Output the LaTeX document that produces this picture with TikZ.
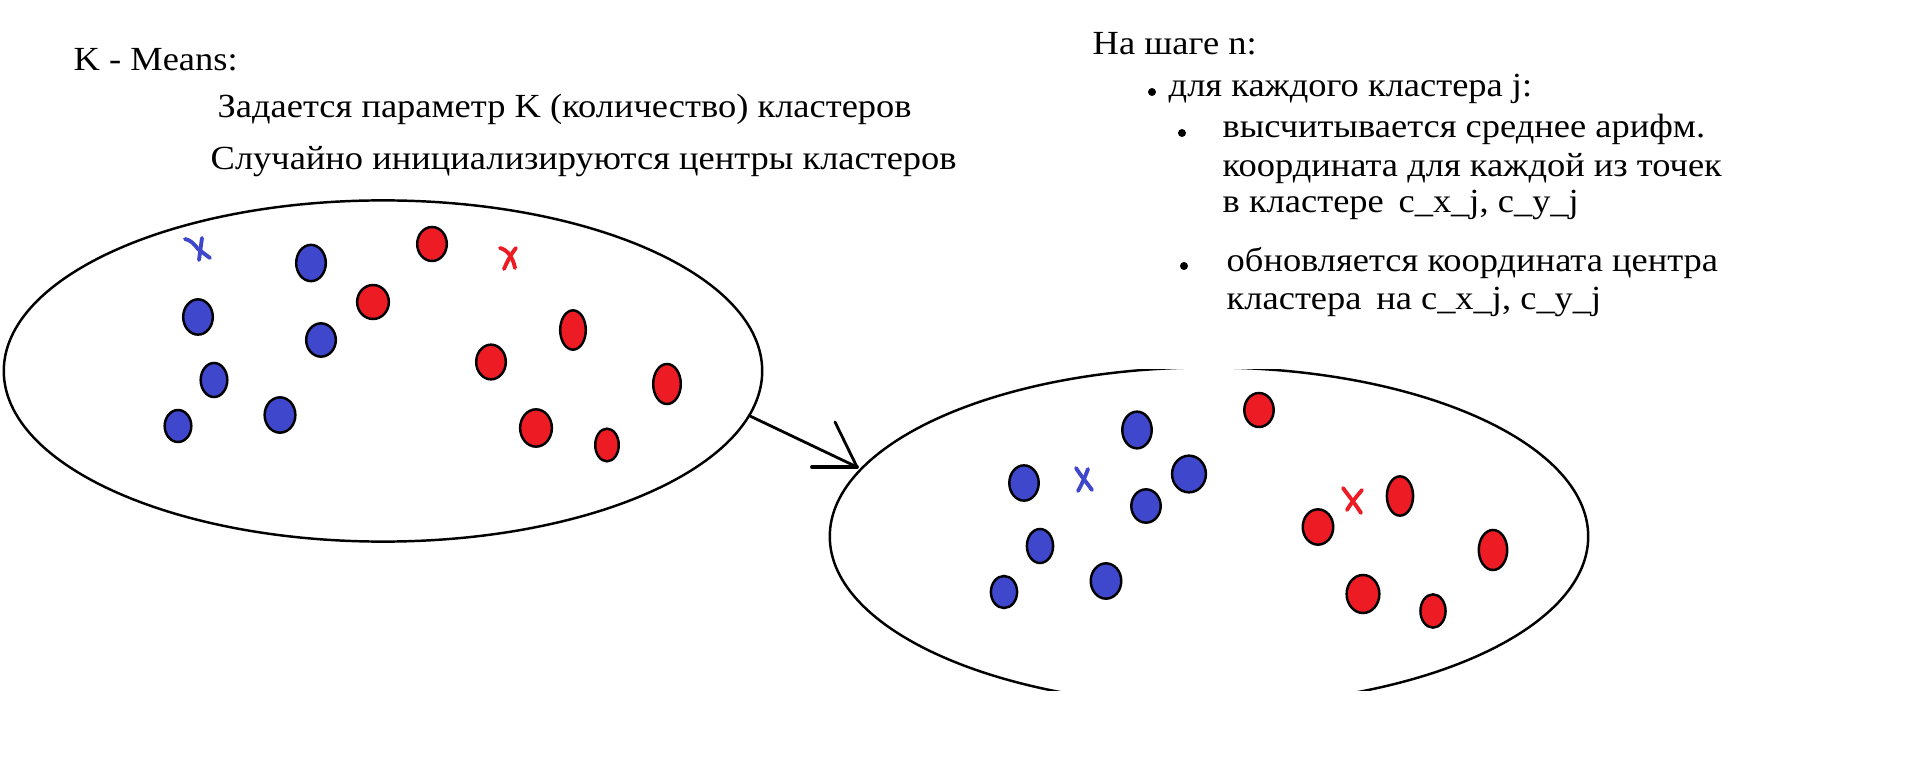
\documentclass[tikz,border=0pt]{standalone}
\usepackage{fontspec}
\setmainfont{Liberation Serif}[FakeStretch=1.08]
\usetikzlibrary{shapes.geometric}
\definecolor{pblue}{RGB}{63,72,204}
\definecolor{pred}{RGB}{237,28,36}
\tikzset{
  txt/.style={anchor=base west, inner sep=0pt, font=\fontsize{9.6pt}{11pt}\selectfont},
  blob/.style={ellipse, draw=black, line width=0.7pt, inner sep=0pt},
  bdot/.style 2 args={blob, fill=pblue, minimum width=#1cm, minimum height=#2cm},
  rdot/.style 2 args={blob, fill=pred, minimum width=#1cm, minimum height=#2cm},
  cluster/.style={ellipse, draw=black, line width=0.7pt, inner sep=0pt, minimum width=7.58cm, minimum height=3.41cm},
  bullet/.style={circle, fill=black, inner sep=0pt, minimum size=0.08cm},
  crossb/.style={pblue, line width=1.1pt, line cap=round, line join=round},
  crossr/.style={pred, line width=1.1pt, line cap=round, line join=round},
  arrowline/.style={line width=0.8pt, line cap=round}
}
\begin{document}
\begin{tikzpicture}[x=0.01cm, y=-0.01cm]
\useasboundingbox[fill=white] (0,0) rectangle (1914,779);

% texts
\node[txt] (t1) at (73,71) {K - Means:};
\node[txt] (t2) at (217,118) {Задается параметр K (количество) кластеров};
\node[txt] (t3) at (210,170) {Случайно инициализируются центры кластеров};
\node[txt] (t4) at (1092,55) {На шаге n:};
\node[bullet] (u1) at (1152,92) {};
\node[txt] (t5) at (1168,97) {для каждого кластера j:};
\node[bullet] (u2) at (1182,133) {};
\node[txt] (t6) at (1222,138) {высчитывается среднее арифм.};
\node[txt] (t7) at (1222,177) {координата для каждой из точек};
\node[txt] (t8) at (1222,213) {в кластере\ \,c\_x\_j, c\_y\_j};
\node[bullet] (u3) at (1184,266) {};
\node[txt] (t9) at (1226,272) {обновляется координата центра};
\node[txt] (t10) at (1226,310) {кластера\ \,на c\_x\_j, c\_y\_j};

% left cluster
\node[cluster] (L) at (383,371) {};
\node[bdot={0.296}{0.363}] (lb1) at (311,263) {};
\node[bdot={0.296}{0.353}] (lb2) at (198,317) {};
\node[bdot={0.296}{0.333}] (lb3) at (321,340) {};
\node[bdot={0.266}{0.340}] (lb4) at (214,380) {};
\node[bdot={0.307}{0.353}] (lb5) at (280,415) {};
\node[bdot={0.266}{0.320}] (lb6) at (178,426) {};
\node[rdot={0.296}{0.340}] (lr1) at (432,244) {};
\node[rdot={0.317}{0.340}] (lr2) at (373,302) {};
\node[rdot={0.256}{0.393}] (lr3) at (573,330) {};
\node[rdot={0.296}{0.347}] (lr4) at (491,362) {};
\node[rdot={0.276}{0.400}] (lr5) at (667,384) {};
\node[rdot={0.317}{0.373}] (lr6) at (536,428) {};
\node[rdot={0.235}{0.327}] (lr7) at (607,445) {};
\draw[crossb] (185,239) .. controls (191,240) and (195,245) .. (198,249) -- (210,258);
\draw[crossb] (202,238) -- (199,260);
\draw[crossr] (500,248) .. controls (508,250) and (513,258) .. (515,268);
\draw[crossr] (516,248) .. controls (511,254) and (507,262) .. (504,269);

% right cluster
\begin{scope}
\clip (800,370) rectangle (1650,690);
\node[cluster, minimum height=3.38cm] (R) at (1209,536.5) {};
\end{scope}
\node[bdot={0.294}{0.367}] (rb1) at (1137,430) {};
\node[bdot={0.294}{0.353}] (rb2) at (1024,483) {};
\node[bdot={0.338}{0.367}] (rb3) at (1189,474) {};
\node[bdot={0.294}{0.333}] (rb4) at (1146,506) {};
\node[bdot={0.262}{0.340}] (rb5) at (1040,546) {};
\node[bdot={0.305}{0.353}] (rb6) at (1106,581) {};
\node[bdot={0.262}{0.320}] (rb7) at (1004,592) {};
\node[rdot={0.294}{0.340}] (rr1) at (1259,410) {};
\node[rdot={0.262}{0.393}] (rr2) at (1400,496) {};
\node[rdot={0.305}{0.353}] (rr3) at (1318,527) {};
\node[rdot={0.284}{0.400}] (rr4) at (1493,550) {};
\node[rdot={0.327}{0.380}] (rr5) at (1363,594) {};
\node[rdot={0.251}{0.333}] (rr6) at (1433,611) {};
\draw[crossb] (1076,468) .. controls (1081,476) and (1087,483) .. (1092,490);
\draw[crossb] (1088,469) .. controls (1085,477) and (1082,484) .. (1078,491);
\draw[crossr] (1343,488) .. controls (1348,495) and (1356,505) .. (1361,513);
\draw[crossr] (1362,490) .. controls (1357,496) and (1351,503) .. (1347,510);

% arrow
\coordinate (tip) at (857,467);
\coordinate (barbA) at (835,422);
\coordinate (barbB) at (812,467);
\draw[arrowline] (L.-7.45) -- (tip);
\draw[arrowline] (barbA) -- (tip);
\draw[arrowline, line width=1.1pt] (barbB) -- (tip);
\end{tikzpicture}
\end{document}
